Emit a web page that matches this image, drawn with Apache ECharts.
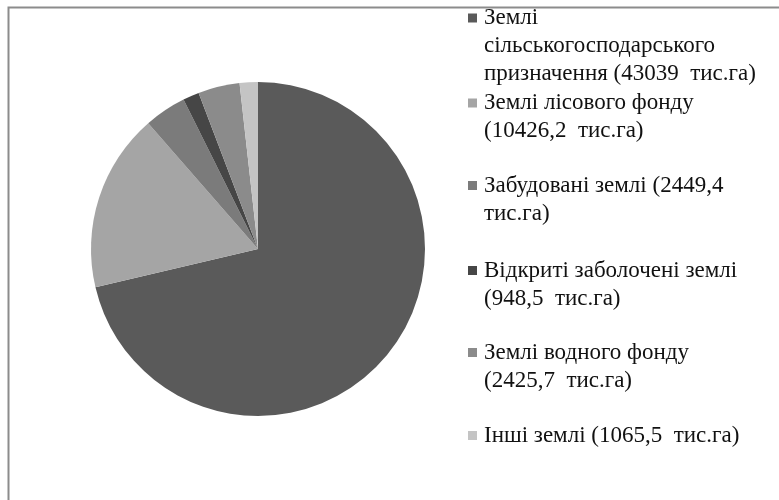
<!DOCTYPE html>
<html>
<head>
<meta charset="utf-8">
<script src="https://cdn.jsdelivr.net/npm/echarts@6/dist/echarts.min.js"></script>
<style>
  html, body { margin: 0; padding: 0; background: #fff; }
  #chart { width: 779px; height: 500px; }
</style>
</head>
<body>
<div id="chart"></div>
<script>
// Land fund structure, thousand hectares
const categories = [
  'Землі сільськогосподарського призначення',
  'Землі лісового фонду',
  'Забудовані землі',
  'Відкриті заболочені землі',
  'Землі водного фонду',
  'Інші землі'
];
const values = [43039, 10426.2, 2449.4, 948.5, 2425.7, 1065.5];
const unit = 'тис.га';
const colors = ['#5a5a5a', '#a5a5a5', '#7b7b7b', '#464646', '#8b8b8b', '#c4c4c4'];

const FONT = '"Liberation Serif", "Times New Roman", serif';
const FONT_SIZE = 23;
const LINE_H = 28;
const WRAP_W = 276;

function fmt(v) { return String(v).replace('.', ','); }
function legendText(i) { return categories[i] + ' (' + fmt(values[i]) + '  ' + unit + ')'; }

// word wrap on spaces using the same font the legend draws with
const measureCtx = document.createElement('canvas').getContext('2d');
measureCtx.font = FONT_SIZE + 'px ' + FONT;
function wrap(text) {
  const words = text.split(' ');
  const lines = [];
  let cur = '';
  words.forEach(function (w, k) {
    const trial = k === 0 ? w : cur + ' ' + w;
    if (k > 0 && w !== '' && cur.trim() !== '' && measureCtx.measureText(trial).width > WRAP_W) {
      lines.push(cur.trim());
      cur = w;
    } else {
      cur = trial;
    }
  });
  lines.push(cur.trim());
  return lines;
}

// first-line centres of the legend entries
const legendRows = [20.5, 105.5, 188, 273, 355, 438];

const legends = categories.map(function (name, i) {
  return {
    show: true,
    data: [name],
    orient: 'vertical',
    left: 463,
    top: legendRows[i] - LINE_H / 2,
    padding: 0,
    icon: 'none',
    itemWidth: 0,
    itemHeight: 0,
    selectedMode: false,
    formatter: function () {
      const lines = wrap(legendText(i));
      return lines.map(function (l, k) {
        return (k === 0 ? '{m| }{g| }' : '{s| }') + '{t|' + l + '}';
      }).join('\n');
    },
    textStyle: {
      fontFamily: FONT,
      fontSize: FONT_SIZE,
      color: '#000',
      rich: {
        m: { width: 9, height: 9, backgroundColor: colors[i], lineHeight: LINE_H },
        g: { width: 7, lineHeight: LINE_H },
        s: { width: 16, lineHeight: LINE_H },
        t: { fontFamily: FONT, fontSize: FONT_SIZE, color: '#111', lineHeight: LINE_H }
      }
    }
  };
});

const chart = echarts.init(document.getElementById('chart'), null, { renderer: 'canvas' });
chart.setOption({
  backgroundColor: '#fff',
  animation: false,
  color: colors,
  legend: legends,
  graphic: [{
    type: 'rect',
    left: 6,
    top: 5,
    shape: { x: 0, y: 0, width: 2000, height: 2000 },
    style: { fill: 'none', stroke: '#8c8c8c', lineWidth: 2 },
    silent: true,
    z: 10
  }],
  series: [{
    type: 'pie',
    center: [258, 249],
    radius: 167,
    startAngle: 90,
    clockwise: true,
    label: { show: false },
    labelLine: { show: false },
    emphasis: { disabled: true },
    itemStyle: { borderWidth: 0 },
    data: categories.map(function (name, i) {
      return { name: name, value: values[i] };
    })
  }]
});
</script>
</body>
</html>
